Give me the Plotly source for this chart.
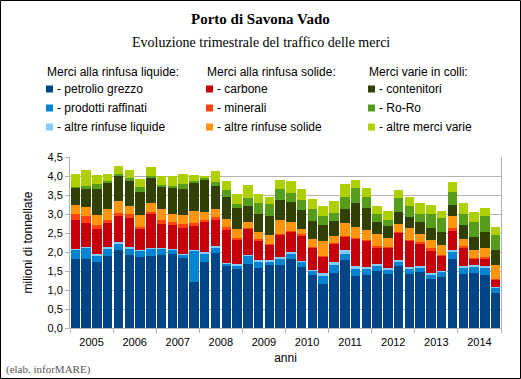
import plotly.graph_objects as go

years = ["2005", "2006", "2007", "2008", "2009", "2010", "2011", "2012", "2013", "2014"]
quarters = ["I", "II", "III", "IV"]

petrolio_grezzo = [1.81,1.82,1.75,1.90, 2.06,1.92,1.87,1.89, 1.91,1.94,1.84,1.20, 1.74,1.97,1.63,1.56,
                   1.68,1.59,1.66,1.66, 1.82,1.61,1.39,1.15, 1.46,1.78,1.37,1.40, 1.50,1.42,1.62,1.42,
                   1.47,1.29,1.34,1.82, 1.42,1.45,1.40,0.92]
prodotti_raffinati = [0.25,0.29,0.15,0.20, 0.16,0.16,0.17,0.20, 0.18,0.12,0.09,0.83, 0.22,0.16,0.06,0.09,
                      0.22,0.17,0.08,0.16, 0.14,0.13,0.11,0.21, 0.20,0.16,0.18,0.16, 0.15,0.12,0.14,0.14,
                      0.12,0.11,0.14,0.20, 0.18,0.18,0.20,0.14]
altre_rinfuse_liquide = [0.02,0.02,0.06,0.02, 0.04,0.04,0.02,0.02, 0.02,0.02,0.01,0.03, 0.03,0.02,0.03,0.03,
                         0.02,0.03,0.04,0.05, 0.04,0.02,0.03,0.09, 0.08,0.10,0.07,0.05, 0.03,0.03,0.03,0.05,
                         0.03,0.04,0.02,0.02, 0.02,0.02,0.02,0.03]
carbone = [0.76,0.63,0.65,0.65, 0.69,0.78,0.56,0.88, 0.63,0.63,0.70,0.62, 0.81,0.69,0.85,0.65,
           0.70,0.52,0.41,0.58, 0.55,0.68,0.59,0.44, 0.48,0.37,0.73,0.68, 0.45,0.54,0.71,0.68,
           0.60,0.58,0.41,0.51, 0.51,0.17,0.20,0.18]
minerali = [0.17,0.19,0.09,0.06, 0.08,0.09,0.05,0.06, 0.10,0.08,0.09,0.09, 0.03,0.07,0.09,0.03,
            0.02,0.02,0.02,0.03, 0.01,0.03,0.01,0.01, 0.03,0.02,0.03,0.03, 0.04,0.02,0.03,0.03,
            0.04,0.08,0.02,0.08, 0.03,0.03,0.05,0.03]
altre_rinfuse_solide = [0.22,0.23,0.27,0.30, 0.31,0.23,0.30,0.23, 0.28,0.20,0.25,0.32, 0.21,0.22,0.21,0.24,
                        0.15,0.19,0.24,0.36, 0.22,0.13,0.21,0.39, 0.18,0.34,0.27,0.25, 0.30,0.25,0.20,0.32,
                        0.21,0.21,0.25,0.31, 0.18,0.19,0.24,0.35]
contenitori = [0.46,0.48,0.68,0.69, 0.67,0.66,0.62,0.67, 0.60,0.69,0.69,0.73, 0.87,0.62,0.58,0.56,
               0.42,0.48,0.49,0.52, 0.53,0.50,0.48,0.41, 0.38,0.36,0.63,0.59, 0.32,0.31,0.33,0.28,
               0.32,0.32,0.35,0.31, 0.38,0.36,0.42,0.41]
ro_ro = [0.03,0.08,0.14,0.05, 0.03,0.07,0.13,0.06, 0.05,0.07,0.12,0.04, 0.03,0.10,0.18,0.10,
         0.22,0.28,0.32,0.29, 0.25,0.26,0.32,0.26, 0.22,0.32,0.41,0.29, 0.22,0.15,0.35,0.29,
         0.22,0.38,0.37,0.32, 0.28,0.39,0.41,0.38]
altre_merci_varie = [0.32,0.41,0.23,0.17, 0.23,0.22,0.19,0.22, 0.23,0.26,0.26,0.17, 0.07,0.29,0.23,0.26,
                     0.33,0.24,0.19,0.24, 0.31,0.30,0.25,0.25, 0.32,0.33,0.20,0.24, 0.20,0.23,0.23,0.24,
                     0.27,0.24,0.17,0.26, 0.28,0.27,0.22,0.22]

group_headers = ["Merci alla rinfusa liquide:", "Merci alla rinfusa solide:", "Merci varie in colli:"]
series = [
    ("- petrolio grezzo", petrolio_grezzo, "#004586", 0),
    ("- prodotti raffinati", prodotti_raffinati, "#0084d1", 0),
    ("- altre rinfuse liquide", altre_rinfuse_liquide, "#83caff", 0),
    ("- carbone", carbone, "#c5000b", 1),
    ("- minerali", minerali, "#ff420e", 1),
    ("- altre rinfuse solide", altre_rinfuse_solide, "#ff950e", 1),
    ("- contenitori", contenitori, "#314004", 2),
    ("- Ro-Ro", ro_ro, "#579d1c", 2),
    ("- altre merci varie", altre_merci_varie, "#aecf00", 2),
]

nq = len(quarters)
x = list(range(len(years) * nq))
labels = [f"{y} {q}" for y in years for q in quarters]

fig = go.Figure()
for name, vals, col, grp in series:
    fig.add_trace(go.Bar(x=x, y=vals, name=name, marker=dict(color=col, line=dict(width=0)),
                         customdata=labels, showlegend=False,
                         hovertemplate="%{customdata}: %{y}<extra>" + name + "</extra>"))

W, H = 521, 379
L, R, T, B = 70, 20, 157, 51
pw, ph = W - L - R, H - T - B

def px(xp):
    return (xp - L) / pw

def py(yp):
    return (H - B - yp) / ph

sans = "Liberation Sans, Arial, sans-serif"
serif = "Liberation Serif, Times New Roman, serif"

annotations = [
    dict(text="<b>Porto di Savona Vado</b>", xref="paper", yref="paper",
         x=px(W / 2), y=py(19), xanchor="center", yanchor="middle", showarrow=False,
         font=dict(family=serif, size=15, color="#000")),
    dict(text="Evoluzione trimestrale del traffico delle merci", xref="paper", yref="paper",
         x=px(W / 2), y=py(42), xanchor="center", yanchor="middle", showarrow=False,
         font=dict(family=serif, size=14, color="#000")),
    dict(text="(elab. inforMARE)", xref="paper", yref="paper",
         x=px(4), y=py(369), xanchor="left", yanchor="middle", showarrow=False,
         font=dict(family=serif, size=11, color="#555")),
]
shapes = [
    dict(type="rect", xref="paper", yref="paper",
         x0=px(0.5), x1=px(W - 0.5), y0=py(H - 0.5), y1=py(0.5),
         line=dict(color="#000", width=1), fillcolor="rgba(0,0,0,0)", layer="below"),
]

# custom three-column legend
col_x = [46, 206, 368]
header_y = 72
row_y = [89, 108, 127]
row_in_group = [0, 0, 0]
for gi, h in enumerate(group_headers):
    annotations.append(dict(text=h, xref="paper", yref="paper", x=px(col_x[gi] - 1), y=py(header_y),
                            xanchor="left", yanchor="middle", showarrow=False,
                            font=dict(family=sans, size=12, color="#000")))
for name, vals, col, grp in series:
    r = row_in_group[grp]
    row_in_group[grp] += 1
    cx, cy = col_x[grp], row_y[r]
    shapes.append(dict(type="rect", xref="paper", yref="paper",
                       x0=px(cx), x1=px(cx + 7), y0=py(cy + 3.5), y1=py(cy - 3.5),
                       line=dict(width=0), fillcolor=col))
    annotations.append(dict(text=name, xref="paper", yref="paper", x=px(cx + 9), y=py(cy),
                            xanchor="left", yanchor="middle", showarrow=False,
                            font=dict(family=sans, size=12, color="#000")))

fig.update_layout(
    width=W, height=H,
    margin=dict(l=L, r=R, t=T, b=B, pad=0, autoexpand=False),
    paper_bgcolor="white", plot_bgcolor="white",
    barmode="stack", bargap=0.12,
    separators=",.",
    font=dict(family=sans, size=11, color="#000"),
    showlegend=False,
    xaxis=dict(
        range=[-0.5, len(x) - 0.5],
        tickvals=[i * nq + (nq - 1) / 2 for i in range(len(years))],
        ticktext=years, ticks="outside", ticklen=4, tickcolor="rgba(0,0,0,0)", showgrid=False,
        showline=True, linecolor="#b3b3b3", linewidth=1, mirror=False,
        tickfont=dict(family=sans, size=11),
        minor=dict(tickvals=[i * nq - 0.5 for i in range(len(years) + 1)],
                   ticks="outside", ticklen=4, tickcolor="#b3b3b3", showgrid=False),
        title=dict(text="anni", font=dict(family=sans, size=12), standoff=6),
        zeroline=False, fixedrange=True, automargin=False,
    ),
    yaxis=dict(
        range=[0, 4.5], dtick=0.5, tickformat=".1f",
        ticks="outside", ticklen=4, tickcolor="#b3b3b3",
        showgrid=True, gridcolor="#b3b3b3", gridwidth=1,
        showline=True, linecolor="#b3b3b3", linewidth=1, mirror=True,
        tickfont=dict(family=sans, size=11),
        title=dict(text="milioni di tonnellate", font=dict(family=sans, size=12), standoff=12),
        zeroline=False, fixedrange=True, automargin=False,
    ),
    annotations=annotations,
    shapes=shapes,
)

fig.write_html("out.html", config={"displayModeBar": False},
               post_script="document.body.style.margin='0';document.body.style.overflow='hidden';")
